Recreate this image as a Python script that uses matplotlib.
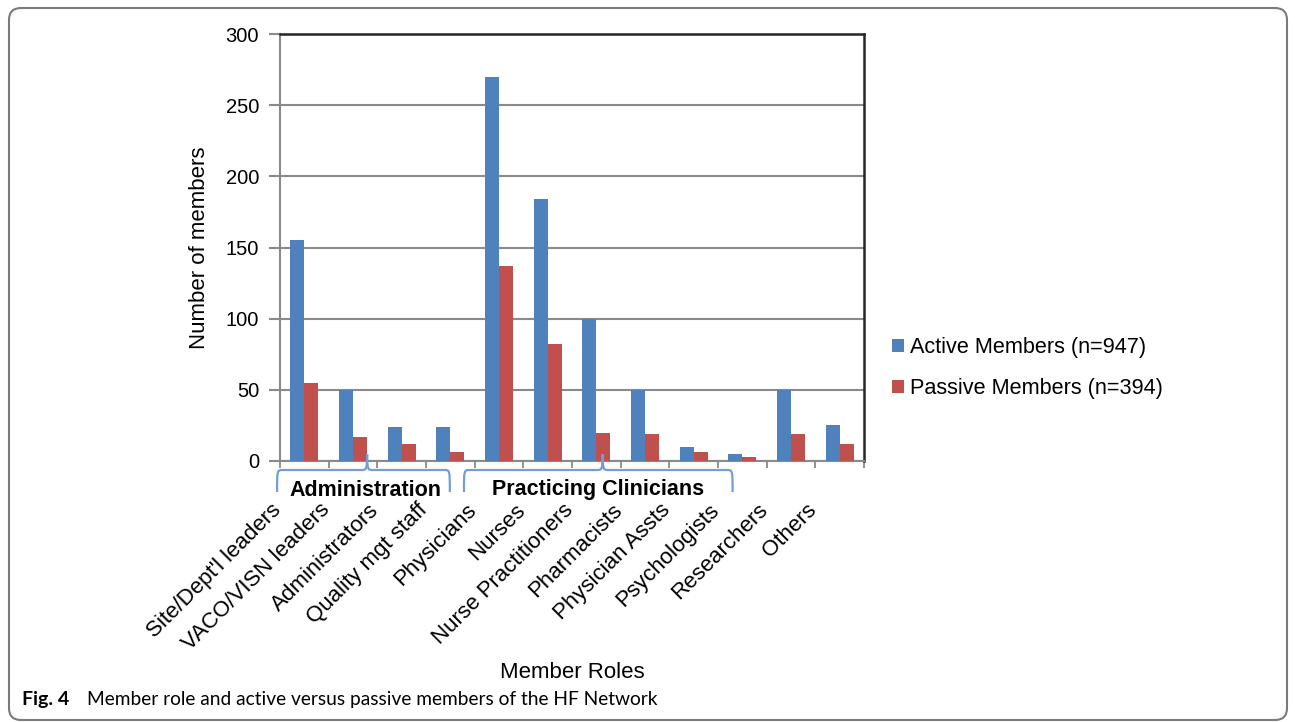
import matplotlib
matplotlib.use("Agg")
import matplotlib.pyplot as plt
import numpy as np
from matplotlib.patches import FancyBboxPatch, PathPatch
from matplotlib.path import Path
from matplotlib.transforms import ScaledTranslation, blended_transform_factory

# ---- data ----
roles = ["Site/Dept'l leaders", "VACO/VISN leaders", "Administrators",
         "Quality mgt staff", "Physicians", "Nurses", "Nurse Practitioners",
         "Pharmacists", "Physician Assts", "Psychologists", "Researchers", "Others"]
active = [155, 50, 24, 24, 270, 184, 100, 50, 10, 5, 50, 25]
passive = [55, 17, 12, 6, 137, 82, 20, 19, 6, 3, 19, 12]
series_labels = ["Active Members (n=947)", "Passive Members (n=394)"]
y_ticks = [0, 50, 100, 150, 200, 250, 300]
groups = ["Administration", "Practicing Clinicians"]

BLUE = "#4F81BD"
RED = "#C0504D"
GRID = "#8a8a8a"
W, H = 1295, 722
DPI = 100

plt.rcParams["font.family"] = ["Liberation Sans", "DejaVu Sans"]

fig = plt.figure(figsize=(W / DPI, H / DPI), dpi=DPI)

# background layer in pixel units for the rounded panel border
bg = fig.add_axes([0, 0, 1, 1], zorder=-5)
bg.set_xlim(0, W)
bg.set_ylim(H, 0)
bg.axis("off")
bg.add_patch(FancyBboxPatch((9, 8), 1278, 712, boxstyle="round,pad=0,rounding_size=12",
                            fc="none", ec="#7a7a7a", lw=1.5))

# main plot area
ax_l, ax_r, ax_t, ax_b = 280, 864, 34, 461
ax = fig.add_axes([ax_l / W, 1 - ax_b / H, (ax_r - ax_l) / W, (ax_b - ax_t) / H])
x = np.arange(len(roles))
bw = 0.285
ax.bar(x - bw / 2, active, bw, color=BLUE, label=series_labels[0], zorder=3)
ax.bar(x + bw / 2, passive, bw, color=RED, label=series_labels[1], zorder=3)

ax.set_xlim(-0.5, len(roles) - 0.5)
ax.set_ylim(0, 300)
ax.set_yticks(y_ticks)
ax.set_yticklabels([str(v) for v in y_ticks], fontsize=14.5)
ax.yaxis.grid(True, color=GRID, lw=1.5, zorder=0)
ax.set_axisbelow(True)

for s in ["left", "bottom"]:
    ax.spines[s].set_color(GRID)
    ax.spines[s].set_linewidth(1.5)
for s in ["top", "right"]:
    ax.spines[s].set_color("#262626")
    ax.spines[s].set_linewidth(1.8)

ax.tick_params(axis="y", direction="out", length=8, width=1.5, color=GRID, pad=7)

# category boundaries carry the x ticks
ax.set_xticks(np.arange(len(roles) + 1) - 0.5, minor=False)
ax.set_xticklabels([])
ax.tick_params(axis="x", which="major", direction="out", length=5, width=1.3, color=GRID)
ax.set_xticks(x, minor=True)
ax.set_xticklabels(roles, minor=True, rotation=45, ha="right", va="center",
                   rotation_mode="anchor", fontsize=16)
ax.tick_params(axis="x", which="minor", length=0, pad=0)
shift = ScaledTranslation(-26 / DPI, -46 / DPI, fig.dpi_scale_trans)
for lab in ax.get_xticklabels(minor=True):
    lab.set_transform(lab.get_transform() + shift)

ax.set_ylabel("Number of members", fontsize=16, labelpad=11)
fig.text(572 / W, 1 - 672 / H, "Member Roles", fontsize=16, ha="center", va="center")

# curly braces grouping the roles
trans = blended_transform_factory(ax.transData, ax.transAxes)
ph = ax_b - ax_t


def brace(x0, xm, x1, color="#6f9fd6"):
    yt = -9 / ph
    yb = -31 / ph
    yp = 7 / ph
    r = 0.12
    verts = [
        (x0, yb), (x0, yt), (x0, yt), (x0 + r, yt),
        (xm - r, yt),
        (xm - 0.02, yt), (xm, yt), (xm, yp),
        (xm, yt), (xm + 0.02, yt), (xm + r, yt),
        (x1 - r, yt),
        (x1, yt), (x1, yt), (x1, yb),
    ]
    codes = [Path.MOVETO, Path.CURVE4, Path.CURVE4, Path.CURVE4,
             Path.LINETO,
             Path.CURVE4, Path.CURVE4, Path.CURVE4,
             Path.CURVE4, Path.CURVE4, Path.CURVE4,
             Path.LINETO,
             Path.CURVE4, Path.CURVE4, Path.CURVE4]
    ax.add_patch(PathPatch(Path(verts, codes), fc="none", ec=color, lw=1.6,
                           transform=trans, clip_on=False, zorder=4))


brace(-0.56, 1.29, 2.99)
brace(3.28, 6.13, 8.80)
ax.text(1.25, -29 / ph, groups[0], transform=trans, ha="center", va="center",
        fontsize=15.5, fontweight="bold")
ax.text(6.03, -29 / ph, groups[1], transform=trans, ha="center", va="center",
        fontsize=15.5, fontweight="bold")

# legend
fig.legend(loc="center left", bbox_to_anchor=(881 / W, 1 - 368 / H), frameon=False,
           fontsize=15.6, handlelength=0.55, handleheight=0.55, handletextpad=0.3,
           labelspacing=0.95, borderpad=0)

# caption
fig.text(22 / W, 1 - 700 / H, "Fig. 4", fontsize=14, fontweight="bold",
         family=["Lato", "DejaVu Sans"], va="center", ha="left")
fig.text(87 / W, 1 - 700 / H, "Member role and active versus passive members of the HF Network",
         fontsize=13.8, family=["Lato", "DejaVu Sans"], va="center", ha="left")

fig.savefig("out.png", dpi=DPI)
